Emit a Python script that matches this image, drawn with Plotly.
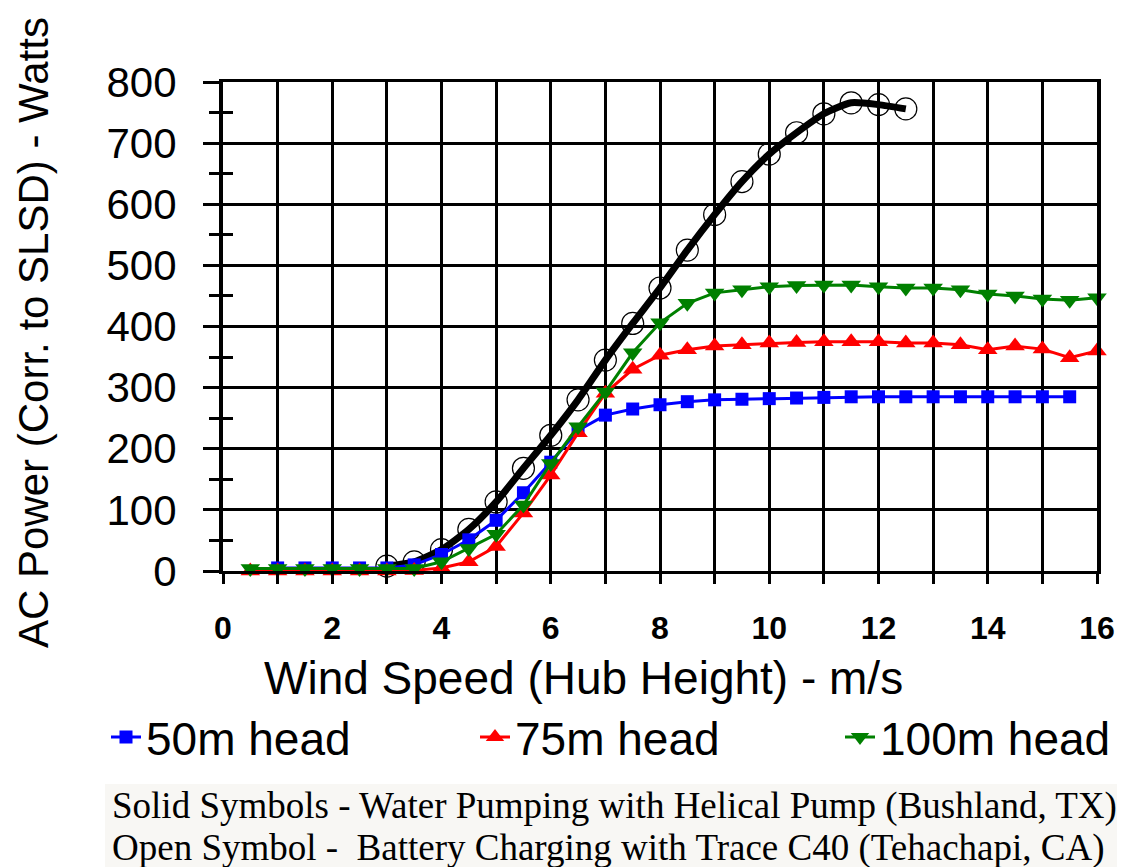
import plotly.graph_objects as go

# ---- data ----
x_blue = [1.0, 1.5, 2.0, 2.5, 3.0, 3.5, 4.0, 4.5, 5.0, 5.5, 6.0, 6.5, 7.0, 7.5, 8.0, 8.5,
          9.0, 9.5, 10.0, 10.5, 11.0, 11.5, 12.0, 12.5, 13.0, 13.5, 14.0, 14.5, 15.0, 15.5]
y_blue = [5, 5, 5, 5, 5, 10, 27, 51, 83, 128, 178, 230, 255, 265, 272, 277,
          280, 281, 282, 283, 284, 285, 285, 285, 285, 285, 285, 285, 285, 285]

x_pump = [0.5, 1.0, 1.5, 2.0, 2.5, 3.0, 3.5, 4.0, 4.5, 5.0, 5.5, 6.0, 6.5, 7.0, 7.5, 8.0,
          8.5, 9.0, 9.5, 10.0, 10.5, 11.0, 11.5, 12.0, 12.5, 13.0, 13.5, 14.0, 14.5, 15.0, 15.5, 16.0]
y_red = [0, 0, 0, 0, 0, 0, 1, 5, 15, 40, 95, 157, 226, 291, 330, 353,
         362, 368, 370, 373, 374, 375, 375, 375, 373, 373, 370, 362, 368, 363, 349, 360]
y_green = [4, 4, 4, 4, 4, 4, 4, 15, 37, 60, 108, 176, 236, 293, 357, 406,
           438, 455, 460, 465, 467, 468, 468, 465, 463, 463, 460, 453, 450, 445, 443, 447]

x_batt = [3.0, 3.5, 4.0, 4.5, 5.0, 5.5, 6.0, 6.5, 7.0, 7.5, 8.0, 8.5, 9.0, 9.5, 10.0,
          10.5, 11.0, 11.5, 12.0, 12.5]
y_batt = [8, 15, 35, 68, 113, 168, 222, 280, 345, 405, 463, 525, 583, 637, 682,
          717, 748, 766, 763, 756]

series_names = ["50m head", "75m head", "100m head"]
x_ticks = [0, 2, 4, 6, 8, 10, 12, 14, 16]
y_ticks = [0, 100, 200, 300, 400, 500, 600, 700, 800]

x_title = "Wind Speed (Hub Height) - m/s"
y_title = "AC Power (Corr. to SLSD) - Watts"
note1 = "Solid Symbols - Water Pumping with Helical Pump (Bushland, TX)"
note2 = "Open Symbol -  Battery Charging with Trace C40 (Tehachapi, CA)"

SANS = "Liberation Sans, Arial, sans-serif"
SERIF = "Liberation Serif, Times New Roman, serif"

W, H = 1125, 867
OFF = 8  # page body margin: screen = figure + OFF
L, T = 223 - OFF, 82 - OFF
R = W - (1097 - OFF)
B = H - (571 - OFF)
PW, PH = W - L - R, H - T - B


def px(xs):
    return (xs - OFF - L) / PW


def py(ys):
    return (H - B - (ys - OFF)) / PH


def cx(xs):
    return (xs - OFF) / W


def cy(ys):
    return 1 - (ys - OFF) / H


fig = go.Figure()

# battery charging (black curve with open circles)
fig.add_trace(go.Scatter(
    x=x_batt, y=y_batt, mode="lines", showlegend=False, hoverinfo="skip",
    line=dict(color="black", width=7, shape="spline", smoothing=0.6),
    cliponaxis=False))
fig.add_trace(go.Scatter(
    x=x_batt, y=y_batt, mode="markers", showlegend=False,
    marker=dict(symbol="circle-open", size=22, color="black", line=dict(width=1.2)),
    cliponaxis=False))

colors = ["#0000ff", "#ff0000", "#008000"]
symbols = ["square", "triangle-up", "triangle-down"]
sizes = [13, 17, 17]
xs = [x_blue, x_pump, x_pump]
ys = [y_blue, y_red, y_green]
legend_ids = ["legend", "legend2", "legend3"]
for i in range(3):
    fig.add_trace(go.Scatter(
        x=xs[i], y=ys[i], mode="lines+markers", name=series_names[i],
        legend=legend_ids[i],
        line=dict(color=colors[i], width=3),
        marker=dict(symbol=symbols[i], size=sizes[i], color=colors[i]),
        cliponaxis=False))

# helper trace for the inner half of the y-axis ticks
fig.add_trace(go.Scatter(x=[0, 0], y=[0, 0], yaxis="y2", mode="lines",
                         line=dict(width=0, color="rgba(0,0,0,0)"),
                         showlegend=False, hoverinfo="skip"))

leg_common = dict(orientation="h", xref="container", yref="container",
                  xanchor="left", yanchor="middle",
                  font=dict(size=46, family=SANS), bgcolor="rgba(0,0,0,0)")
text_starts = [148, 517, 882]
legends = {}
for i, lid in enumerate(legend_ids):
    legends[lid] = dict(leg_common, x=cx(text_starts[i] - 42), y=cy(737))

fig.update_layout(
    width=W, height=H,
    margin=dict(l=L, r=R, t=T, b=B, autoexpand=False),
    paper_bgcolor="white", plot_bgcolor="white",
    font=dict(family=SANS, color="black"),
    xaxis=dict(
        range=[0, 16], tickvals=x_ticks, ticktext=[str(v) for v in x_ticks],
        ticks="outside", ticklen=10, tickwidth=3, tickcolor="black",
        showgrid=True, gridcolor="black", gridwidth=3,
        minor=dict(dtick=1, ticks="outside", ticklen=10, tickwidth=3, tickcolor="black",
                   showgrid=True, gridcolor="black", gridwidth=3),
        showline=True, linecolor="black", linewidth=3, mirror=True, zeroline=False,
        tickfont=dict(size=32, family=SANS, weight="bold"),
        ticklabelstandoff=17,
    ),
    yaxis=dict(
        range=[0, 800], tickvals=y_ticks, ticktext=[str(v) for v in y_ticks],
        ticks="outside", ticklen=16, tickwidth=3, tickcolor="black",
        showgrid=True, gridcolor="black", gridwidth=2.5,
        minor=dict(dtick=50, ticks="outside", ticklen=10, tickwidth=3, tickcolor="black",
                   showgrid=False),
        showline=True, linecolor="black", linewidth=4, mirror=True, zeroline=False,
        tickfont=dict(size=42, family=SANS),
        ticklabelstandoff=18,
    ),
    yaxis2=dict(
        range=[0, 800], overlaying="y", side="left", anchor="x",
        tickvals=y_ticks, ticks="inside", ticklen=10, tickwidth=3, tickcolor="black",
        minor=dict(dtick=50, ticks="inside", ticklen=10, tickwidth=3, tickcolor="black"),
        showticklabels=False, showgrid=False, showline=False, zeroline=False,
    ),
    shapes=[dict(type="rect", xref="paper", yref="paper",
                 x0=px(105), x1=px(1140), y0=py(880), y1=py(784),
                 fillcolor="#f8f7f4", line=dict(width=0), layer="below")],
    annotations=[
        dict(text=x_title, xref="paper", yref="paper", x=px(583), y=py(678),
             xanchor="center", yanchor="middle", showarrow=False,
             font=dict(family=SANS, size=46, color="black")),
        dict(text=y_title, xref="paper", yref="paper", x=px(33), y=py(333),
             xanchor="center", yanchor="middle", showarrow=False, textangle=-90,
             font=dict(family=SANS, size=42, color="black")),
        dict(text=note1, xref="paper", yref="paper", x=px(110), y=py(806),
             xanchor="left", yanchor="middle", showarrow=False,
             font=dict(family=SERIF, size=37, color="black")),
        dict(text=note2, xref="paper", yref="paper", x=px(110), y=py(848),
             xanchor="left", yanchor="middle", showarrow=False,
             font=dict(family=SERIF, size=37, color="black")),
    ],
    **legends,
)

fig.write_html("out.html")
